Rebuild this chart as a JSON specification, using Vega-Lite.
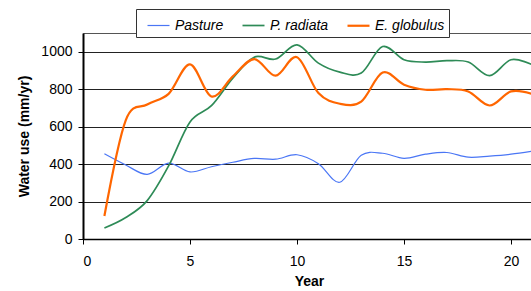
{
  "$schema": "https://vega.github.io/schema/vega-lite/v6.json",
  "width": 452,
  "height": 206,
  "autosize": "none",
  "padding": {"left": 83, "top": 33, "right": 0, "bottom": 52},
  "background": "white",
  "config": {
    "font": "Liberation Sans",
    "view": {"stroke": "#555555", "strokeWidth": 1},
    "axis": {
      "domainColor": "#000000",
      "tickColor": "#000000",
      "tickSize": 5,
      "labelColor": "#000000",
      "labelFontSize": 14,
      "labelFont": "Liberation Sans",
      "titleFont": "Liberation Sans",
      "titleFontSize": 14,
      "titleFontWeight": "bold",
      "titleColor": "#000000"
    }
  },
  "data": {
    "values": [
      {"year": 1, "series": "Pasture", "water": 455},
      {"year": 2, "series": "Pasture", "water": 395},
      {"year": 3, "series": "Pasture", "water": 345},
      {"year": 4, "series": "Pasture", "water": 405},
      {"year": 5, "series": "Pasture", "water": 358},
      {"year": 6, "series": "Pasture", "water": 386},
      {"year": 7, "series": "Pasture", "water": 410},
      {"year": 8, "series": "Pasture", "water": 430},
      {"year": 9, "series": "Pasture", "water": 426},
      {"year": 10, "series": "Pasture", "water": 450},
      {"year": 11, "series": "Pasture", "water": 402},
      {"year": 12, "series": "Pasture", "water": 303},
      {"year": 13, "series": "Pasture", "water": 447},
      {"year": 14, "series": "Pasture", "water": 458},
      {"year": 15, "series": "Pasture", "water": 431},
      {"year": 16, "series": "Pasture", "water": 453},
      {"year": 17, "series": "Pasture", "water": 462},
      {"year": 18, "series": "Pasture", "water": 437},
      {"year": 19, "series": "Pasture", "water": 443},
      {"year": 20, "series": "Pasture", "water": 453},
      {"year": 21, "series": "Pasture", "water": 469},
      {"year": 1, "series": "P. radiata", "water": 59},
      {"year": 2, "series": "P. radiata", "water": 115},
      {"year": 3, "series": "P. radiata", "water": 205},
      {"year": 4, "series": "P. radiata", "water": 390},
      {"year": 5, "series": "P. radiata", "water": 625},
      {"year": 6, "series": "P. radiata", "water": 712},
      {"year": 7, "series": "P. radiata", "water": 859},
      {"year": 8, "series": "P. radiata", "water": 971},
      {"year": 9, "series": "P. radiata", "water": 961},
      {"year": 10, "series": "P. radiata", "water": 1037},
      {"year": 11, "series": "P. radiata", "water": 939},
      {"year": 12, "series": "P. radiata", "water": 891},
      {"year": 13, "series": "P. radiata", "water": 886},
      {"year": 14, "series": "P. radiata", "water": 1028},
      {"year": 15, "series": "P. radiata", "water": 957},
      {"year": 16, "series": "P. radiata", "water": 945},
      {"year": 17, "series": "P. radiata", "water": 952},
      {"year": 18, "series": "P. radiata", "water": 945},
      {"year": 19, "series": "P. radiata", "water": 872},
      {"year": 20, "series": "P. radiata", "water": 957},
      {"year": 21, "series": "P. radiata", "water": 930},
      {"year": 1, "series": "E. globulus", "water": 123},
      {"year": 2, "series": "E. globulus", "water": 635},
      {"year": 3, "series": "E. globulus", "water": 718},
      {"year": 4, "series": "E. globulus", "water": 775},
      {"year": 5, "series": "E. globulus", "water": 932},
      {"year": 6, "series": "E. globulus", "water": 761},
      {"year": 7, "series": "E. globulus", "water": 868},
      {"year": 8, "series": "E. globulus", "water": 961},
      {"year": 9, "series": "E. globulus", "water": 872},
      {"year": 10, "series": "E. globulus", "water": 971},
      {"year": 11, "series": "E. globulus", "water": 779},
      {"year": 12, "series": "E. globulus", "water": 722},
      {"year": 13, "series": "E. globulus", "water": 734},
      {"year": 14, "series": "E. globulus", "water": 889},
      {"year": 15, "series": "E. globulus", "water": 824},
      {"year": 16, "series": "E. globulus", "water": 797},
      {"year": 17, "series": "E. globulus", "water": 800},
      {"year": 18, "series": "E. globulus", "water": 788},
      {"year": 19, "series": "E. globulus", "water": 713},
      {"year": 20, "series": "E. globulus", "water": 788},
      {"year": 21, "series": "E. globulus", "water": 774}
    ]
  },
  "mark": {"type": "line", "interpolate": "cardinal", "clip": true},
  "encoding": {
    "x": {
      "field": "year",
      "type": "quantitative",
      "scale": {"domain": [0, 21.12], "nice": false, "zero": false},
      "axis": {
        "values": [0, 5, 10, 15, 20],
        "title": "Year",
        "grid": false,
        "domainWidth": 1.5,
        "labelPadding": 10,
        "titlePadding": 6
      }
    },
    "y": {
      "field": "water",
      "type": "quantitative",
      "scale": {"domain": [0, 1100], "nice": false},
      "axis": {
        "values": [0, 200, 400, 600, 800, 1000],
        "format": "d",
        "title": "Water use (mm/yr)",
        "grid": true,
        "gridColor": "#222222",
        "gridWidth": 1,
        "domainWidth": 2,
        "labelPadding": 6,
        "titlePadding": 9
      }
    },
    "color": {
      "field": "series",
      "type": "nominal",
      "scale": {
        "domain": ["Pasture", "P. radiata", "E. globulus"],
        "range": ["#4a76f5", "#2e8b57", "#ff6600"]
      },
      "legend": {
        "title": null,
        "orient": "none",
        "legendX": 53,
        "legendY": -24,
        "direction": "horizontal",
        "columns": 3,
        "strokeColor": "#333333",
        "fillColor": "#ffffff",
        "padding": 4,
        "symbolType": "stroke",
        "symbolSize": 484,
        "symbolStrokeWidth": 1.5,
        "symbolOffset": 6,
        "labelFontSize": 14,
        "labelFontStyle": "italic",
        "labelColor": "#000000",
        "labelOffset": 4,
        "columnPadding": 11
      }
    },
    "strokeWidth": {
      "field": "series",
      "type": "nominal",
      "scale": {
        "domain": ["Pasture", "P. radiata", "E. globulus"],
        "range": [1.2, 2.2, 2.2]
      },
      "legend": null
    }
  }
}
